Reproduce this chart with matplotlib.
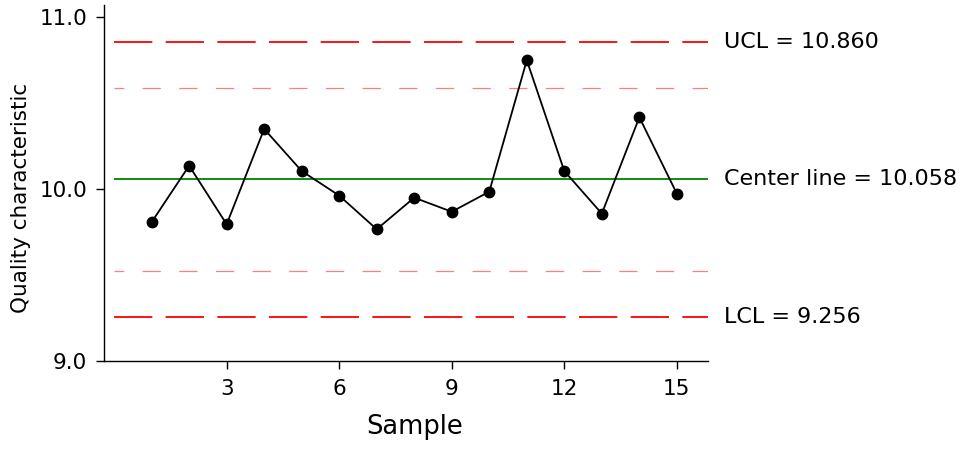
import numpy as np
import matplotlib
matplotlib.use("Agg")
import matplotlib.pyplot as plt

# sample values
samples = list(range(1, 16))
values = [9.808, 10.137, 9.796, 10.351, 10.106, 9.963, 9.767, 9.951,
          9.869, 9.986, 10.751, 10.106, 9.858, 10.419, 9.974]

center = 10.058
ucl = 10.860
lcl = 9.256
warn_limits = [10.591, 9.522]

xticks = [3, 6, 9, 12, 15]
yticks = [9.0, 10.0, 11.0]

plt.rcParams['lines.scale_dashes'] = False

fig = plt.figure(figsize=(9.6, 4.51), dpi=100)
ax = fig.add_axes([0.1083, 0.1996, 0.6292, 0.7894])

x_end = 15.83
ax.hlines([ucl, lcl], 0, x_end, colors='red', linewidth=1.3,
          linestyles=[(0, (27.6, 9.6))])
ax.hlines(warn_limits, 0, x_end, colors='red', alpha=0.5, linewidth=0.9,
          linestyles=[(6.2, (13.2, 13.2))])
ax.hlines(center, 0, x_end, colors='green', linewidth=1.3)

ax.plot(samples, values, color='black', linewidth=1.3, marker='o',
        markersize=7.5, zorder=3)

lab_x = 16.25
ax.text(lab_x, ucl, 'UCL = %.3f' % ucl, fontsize=16, va='center', ha='left', clip_on=False)
ax.text(lab_x, center, 'Center line = %.3f' % center, fontsize=16, va='center', ha='left', clip_on=False)
ax.text(lab_x, lcl, 'LCL = %.3f' % lcl, fontsize=16, va='center', ha='left', clip_on=False)

ax.set_xlim(-0.27, x_end)
ax.set_ylim(9.0, 11.073)
ax.set_xticks(xticks)
ax.set_yticks(yticks)
ax.set_yticklabels(['%.1f' % t for t in yticks])

for side in ['top', 'right']:
    ax.spines[side].set_visible(False)
for side in ['left', 'bottom']:
    ax.spines[side].set_linewidth(1.0)

ax.tick_params(axis='both', labelsize=15.5, length=6, width=1.0)
ax.tick_params(axis='y', pad=6)
ax.tick_params(axis='x', pad=7)

ax.set_xlabel('Sample', fontsize=18.5)
ax.set_ylabel('Quality characteristic', fontsize=15.5)
ax.yaxis.set_label_coords(-0.12, 0.459)
ax.xaxis.set_label_coords(0.514, -0.15)

fig.savefig('out.png', dpi=100)
